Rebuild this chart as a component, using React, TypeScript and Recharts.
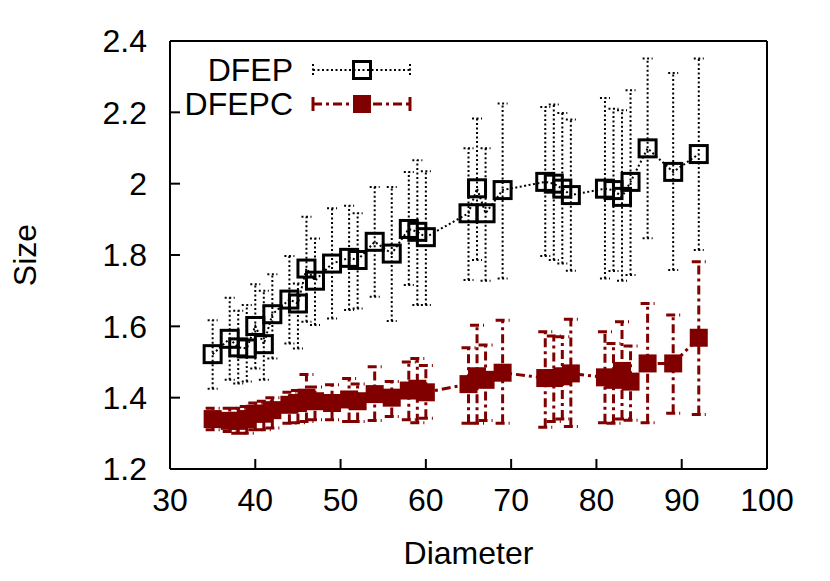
import React from 'react';
import { ComposedChart, Line, XAxis, YAxis, ErrorBar, Legend } from 'recharts';

// values
const diameters = [35, 37, 38, 39, 40, 41, 42, 44, 45, 46, 47, 49, 51, 52, 54, 56, 58, 59, 60, 65, 66, 67, 69, 74, 75, 76, 77, 81, 82, 83, 84, 86, 89, 92];

const dfep = [1.522, 1.565, 1.541, 1.538, 1.601, 1.55, 1.634, 1.675, 1.664, 1.762, 1.728, 1.776, 1.792, 1.786, 1.837, 1.804, 1.873, 1.865, 1.85, 1.917, 1.987, 1.917, 1.982, 2.005, 2.0, 1.986, 1.968, 1.986, 1.982, 1.963, 2.005, 2.099, 2.033, 2.083];
const dfepLow = [1.425, 1.45, 1.44, 1.445, 1.482, 1.45, 1.51, 1.552, 1.538, 1.613, 1.604, 1.622, 1.646, 1.65, 1.683, 1.615, 1.716, 1.66, 1.66, 1.73, 1.786, 1.728, 1.734, 1.797, 1.786, 1.776, 1.756, 1.734, 1.755, 1.728, 1.744, 1.847, 1.758, 1.814];
const dfepHigh = [1.617, 1.68, 1.644, 1.66, 1.718, 1.7, 1.746, 1.797, 1.72, 1.907, 1.846, 1.931, 1.938, 1.917, 1.991, 1.991, 2.033, 2.066, 2.035, 2.099, 2.183, 2.099, 2.225, 2.215, 2.222, 2.198, 2.18, 2.24, 2.21, 2.206, 2.262, 2.351, 2.31, 2.351];

const dfepc = [1.34, 1.335, 1.335, 1.34, 1.355, 1.355, 1.365, 1.38, 1.385, 1.4, 1.39, 1.385, 1.395, 1.39, 1.41, 1.4, 1.42, 1.425, 1.415, 1.438, 1.46, 1.45, 1.47, 1.455, 1.455, 1.46, 1.468, 1.457, 1.45, 1.475, 1.445, 1.496, 1.496, 1.568];
const dfepcLow = [1.31, 1.305, 1.3, 1.3, 1.31, 1.31, 1.315, 1.328, 1.33, 1.333, 1.338, 1.338, 1.333, 1.333, 1.336, 1.347, 1.338, 1.33, 1.342, 1.328, 1.328, 1.336, 1.328, 1.317, 1.333, 1.34, 1.319, 1.33, 1.328, 1.34, 1.337, 1.33, 1.356, 1.353];
const dfepcHigh = [1.37, 1.37, 1.37, 1.375, 1.385, 1.39, 1.4, 1.415, 1.42, 1.465, 1.43, 1.436, 1.454, 1.438, 1.487, 1.445, 1.5, 1.51, 1.49, 1.54, 1.603, 1.548, 1.617, 1.585, 1.573, 1.571, 1.62, 1.585, 1.552, 1.613, 1.545, 1.664, 1.632, 1.781];

const xTicks = [30, 40, 50, 60, 70, 80, 90, 100];
const yTicks = [1.2, 1.4, 1.6, 1.8, 2, 2.2, 2.4];

const rows = diameters.map((d, i) => ({
  diameter: d,
  dfep: dfep[i],
  dfepErr: [dfep[i] - dfepLow[i], dfepHigh[i] - dfep[i]],
  dfepc: dfepc[i],
  dfepcErr: [dfepc[i] - dfepcLow[i], dfepcHigh[i] - dfepc[i]],
}));

const RED = '#800000';
const FONT = '"Liberation Sans", Arial, Helvetica, sans-serif';
const FS = 32;
const DOTTED = '2 2.5';
const DASHDOT = '9 4 3 4';

const tickStyle = { fontSize: FS, fill: '#000', fontFamily: FONT };

function OpenSquare(props: any) {
  const { cx, cy, index } = props;
  if (cx == null || cy == null) return <g key={`o${index}`} />;
  return <rect key={`o${index}`} x={cx - 8.5} y={cy - 8.5} width={17} height={17} fill="none" stroke="#000" strokeWidth={3} />;
}

function FilledSquare(props: any) {
  const { cx, cy, index } = props;
  if (cx == null || cy == null) return <g key={`f${index}`} />;
  return <rect key={`f${index}`} x={cx - 9} y={cy - 9} width={18} height={18} fill={RED} stroke="none" />;
}

function LegendBox() {
  return (
    <svg width={260} height={76} style={{ display: 'block', overflow: 'visible' }}>
      <text x={123} y={20} textAnchor="end" dominantBaseline="central" fontSize={FS} fontFamily={FONT} fill="#000">DFEP</text>
      <line x1={143} x2={240} y1={20} y2={20} stroke="#000" strokeWidth={2} strokeDasharray={DOTTED} />
      <line x1={143} x2={143} y1={14} y2={26} stroke="#000" strokeWidth={2} strokeDasharray={DOTTED} />
      <line x1={240} x2={240} y1={14} y2={26} stroke="#000" strokeWidth={2} strokeDasharray={DOTTED} />
      <rect x={183.5} y={11.5} width={17} height={17} fill="none" stroke="#000" strokeWidth={3} />
      <text x={123} y={54} textAnchor="end" dominantBaseline="central" fontSize={FS} fontFamily={FONT} fill="#000">DFEPC</text>
      <line x1={143} x2={240} y1={54} y2={54} stroke={RED} strokeWidth={3} strokeDasharray={DASHDOT} />
      <line x1={143} x2={143} y1={47} y2={61} stroke={RED} strokeWidth={3} />
      <line x1={240} x2={240} y1={47} y2={61} stroke={RED} strokeWidth={3} />
      <rect x={183} y={45} width={18} height={18} fill={RED} />
    </svg>
  );
}

export default function App() {
  return (
    <div style={{ position: 'absolute', left: 0, top: 0, width: 830, height: 581, background: '#fff', fontFamily: FONT }}>
      <ComposedChart width={830} height={581} data={rows} margin={{ top: 40, right: 62, bottom: 0, left: 0 }}>
        <XAxis
          dataKey="diameter"
          type="number"
          domain={[30, 100]}
          ticks={xTicks}
          allowDataOverflow
          height={112}
          tickSize={-10}
          tickMargin={29}
          stroke="#000"
          strokeWidth={2}
          tick={tickStyle}
          label={({ viewBox }: any) => (
            <text x={viewBox.x + viewBox.width / 2} y={553} textAnchor="middle" dominantBaseline="central" fontSize={FS} fontFamily={FONT} fill="#000">Diameter</text>
          )}
        />
        <XAxis
          xAxisId="top"
          orientation="top"
          type="number"
          domain={[30, 100]}
          ticks={xTicks}
          allowDataOverflow
          height={1}
          tickSize={-10}
          stroke="#000"
          strokeWidth={2}
          tick={false}
        />
        <YAxis
          type="number"
          domain={[1.2, 2.4]}
          ticks={yTicks}
          allowDataOverflow
          width={170}
          tickSize={-10}
          tickMargin={33}
          stroke="#000"
          strokeWidth={2}
          tick={tickStyle}
          label={({ viewBox }: any) => {
            const cy = viewBox.y + viewBox.height / 2;
            return (
              <text x={25} y={cy} transform={`rotate(-90, 25, ${cy})`} textAnchor="middle" dominantBaseline="central" fontSize={FS} fontFamily={FONT} fill="#000">Size</text>
            );
          }}
        />
        <YAxis
          yAxisId="right"
          orientation="right"
          type="number"
          domain={[1.2, 2.4]}
          ticks={yTicks}
          allowDataOverflow
          width={1}
          tickSize={-10}
          stroke="#000"
          strokeWidth={2}
          tick={false}
        />
        <Legend
          layout="horizontal"
          verticalAlign="middle"
          align="center"
          wrapperStyle={{ left: 170, top: 50, width: 260 }}
          content={() => <LegendBox />}
        />
        <Line
          dataKey="dfep"
          name="DFEP"
          type="linear"
          stroke="#000"
          strokeWidth={2}
          strokeDasharray={DOTTED}
          dot={OpenSquare}
          activeDot={false}
          isAnimationActive={false}
        >
          <ErrorBar dataKey="dfepErr" direction="y" width={5} stroke="#000" strokeWidth={2} strokeDasharray={DOTTED} />
        </Line>
        <Line
          dataKey="dfepc"
          name="DFEPC"
          type="linear"
          stroke={RED}
          strokeWidth={3}
          strokeDasharray={DASHDOT}
          dot={FilledSquare}
          activeDot={false}
          isAnimationActive={false}
        >
          <ErrorBar dataKey="dfepcErr" direction="y" width={7} stroke={RED} strokeWidth={3} strokeDasharray={DASHDOT} />
        </Line>
      </ComposedChart>
    </div>
  );
}
